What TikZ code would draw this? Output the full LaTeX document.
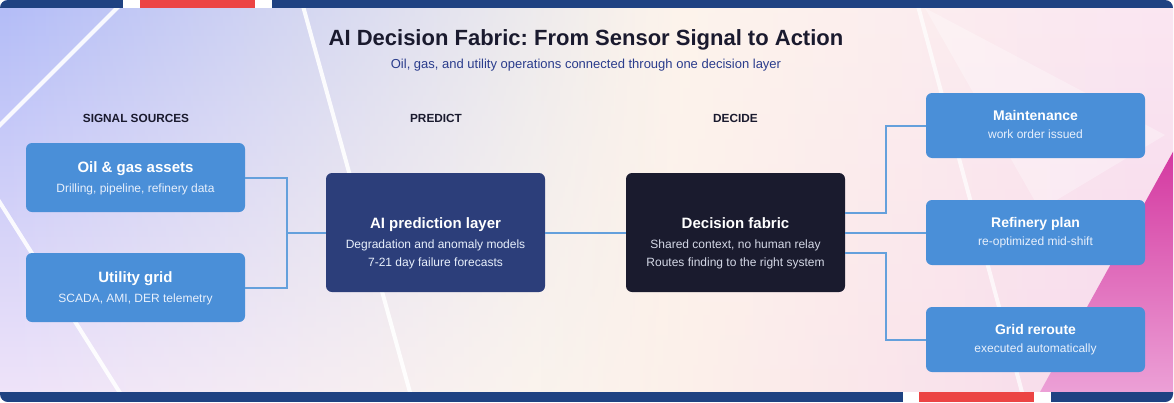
\documentclass[tikz,border=0pt]{standalone}
\usepackage{fontspec}
\setmainfont{Liberation Sans}
\frenchspacing
\usetikzlibrary{fadings,calc}
\definecolor{barblue}{RGB}{31,66,130}
\definecolor{barred}{RGB}{236,68,68}
\definecolor{boxblue}{RGB}{74,143,216}
\definecolor{predblue}{RGB}{44,62,122}
\definecolor{decdark}{RGB}{26,27,46}
\definecolor{connc}{RGB}{100,160,220}
\definecolor{titlec}{RGB}{26,26,46}
\definecolor{subc}{RGB}{42,60,140}
\definecolor{subw}{RGB}{232,240,252}
\definecolor{subd}{RGB}{212,216,230}
\definecolor{bgmid}{RGB}{254,248,234}
\definecolor{bgtl}{RGB}{178,188,248}
\definecolor{bgbl}{RGB}{240,228,250}
\definecolor{bgtr}{RGB}{250,230,242}
\definecolor{bgbr}{RGB}{247,214,236}
\definecolor{magA}{RGB}{212,56,160}
\definecolor{magB}{RGB}{236,160,214}
\tikzfading[name=fadeR, left color=transparent!0, right color=transparent!100]
\tikzfading[name=fadeL, left color=transparent!100, right color=transparent!0]
\tikzset{
  box/.style={rectangle, rounded corners=6pt, minimum width=219pt, draw=none, inner sep=0pt},
  srcbox/.style={box, fill=boxblue, minimum height=69pt},
  outbox/.style={box, fill=boxblue, minimum height=65pt},
  bigbox/.style={box, minimum height=119pt},
  conn/.style={draw=connc, line width=2pt},
  ttl/.style={anchor=base, text=white, font=\bfseries\fontsize{15}{18}\selectfont},
  ttlsm/.style={anchor=base, text=white, font=\bfseries\fontsize{14}{17}\selectfont},
  subtxt/.style={anchor=base, text=subw, font=\fontsize{12}{14}\selectfont},
  subdark/.style={anchor=base, text=subd, font=\fontsize{12}{14}\selectfont},
  hdr/.style={anchor=base, text=titlec, font=\bfseries\fontsize{11.8}{14}\selectfont},
  wline/.style={white, line width=4pt, opacity=0.9}
}
\begin{document}
\begin{tikzpicture}[x=1pt,y=-1pt]
\useasboundingbox (0,0) rectangle (1174,402);
\begin{scope}
\clip[rounded corners=8pt] (0,0) rectangle (1173,402);
% background
\fill[bgmid] (0,0) rectangle (1174,402);
\shade[top color=bgtl, bottom color=bgbl, path fading=fadeR, fit fading=true] (0,0) rectangle (680,402);
\shade[top color=bgtr, bottom color=bgbr, path fading=fadeL, fit fading=true] (540,0) rectangle (1174,402);
\fill[white, opacity=0.3] (925,8) -- (1165,135) -- (1040,210) -- cycle;
\shade[top color=magA, bottom color=magB] (1174,150) -- (1040,392) -- (1174,392) -- cycle;
% white lines
\draw[wline] (-2,127) -- (120,5);
\draw[wline] (-8,190) -- (122,396);
\draw[wline] (303,6) -- (411,396);
\draw[wline, opacity=0.7] (918,6) -- (1023,396);
% bars
\fill[barblue] (0,0) rectangle (123,8);
\fill[white] (123,0) rectangle (272,8);
\fill[barred] (140,0) rectangle (255,8);
\fill[barblue] (272,0) rectangle (1174,8);
\fill[barblue] (0,392) rectangle (903,402);
\fill[white] (903,392) rectangle (1051,402);
\fill[barred] (919,392) rectangle (1034,402);
\fill[barblue] (1051,392) rectangle (1174,402);
\end{scope}
% title
\node[anchor=base, text=titlec, font=\bfseries\fontsize{22}{26}\selectfont] (title) at (586,45) {AI Decision Fabric: From Sensor Signal to Action};
\node[anchor=base, text=subc, font=\fontsize{13}{15}\selectfont] (subtitle) at (586,68) {Oil, gas, and utility operations connected through one decision layer};
% headers
\node[hdr] (h1) at (136,122) {SIGNAL SOURCES};
\node[hdr] (h2) at (436,122) {PREDICT};
\node[hdr] (h3) at (735.5,122) {DECIDE};
% boxes
\node[srcbox] (oil) at (135.5,177.5) {};
\node[srcbox] (util) at (135.5,287.5) {};
\node[bigbox, fill=predblue] (pred) at (435.5,232.5) {};
\node[bigbox, fill=decdark] (dec) at (735.5,232.5) {};
\node[outbox] (maint) at (1035.5,125.5) {};
\node[outbox] (ref) at (1035.5,232.5) {};
\node[outbox] (grid) at (1035.5,339.5) {};
% texts
\node[ttl] (oilT) at (135.5,172) {Oil \& gas assets};
\node[subtxt] (oilS) at (135.5,192) {Drilling, pipeline, refinery data};
\node[ttl] (utilT) at (135.5,282) {Utility grid};
\node[subtxt] (utilS) at (135.5,302) {SCADA, AMI, DER telemetry};
\node[ttl] (predT) at (435.5,228) {AI prediction layer};
\node[subtxt] (predS1) at (435.5,248) {Degradation and anomaly models};
\node[subtxt] (predS2) at (435.5,266) {7-21 day failure forecasts};
\node[ttl] (decT) at (735.5,228) {Decision fabric};
\node[subdark] (decS1) at (735.5,248) {Shared context, no human relay};
\node[subdark] (decS2) at (735.5,266) {Routes finding to the right system};
\node[ttlsm] (maintT) at (1035.5,120) {Maintenance};
\node[subtxt] (maintS) at (1035.5,138) {work order issued};
\node[ttlsm] (refT) at (1035.5,227) {Refinery plan};
\node[subtxt] (refS) at (1035.5,245) {re-optimized mid-shift};
\node[ttlsm] (gridT) at (1035.5,334) {Grid reroute};
\node[subtxt] (gridS) at (1035.5,352) {executed automatically};
% connectors
\coordinate (jl) at ($(pred.west)+(-39,0)$);
\draw[conn] (oil.east) -| (jl);
\draw[conn] (util.east) -| (jl);
\draw[conn] (jl) -- (pred.west);
\draw[conn] (pred.east) -- (dec.west);
\draw[conn] ($(dec.east)+(0,-20)$) -| ($(maint.west)+(-40,0)$) -- (maint.west);
\draw[conn] (dec.east) -- (ref.west);
\draw[conn] ($(dec.east)+(0,20)$) -| ($(grid.west)+(-40,0)$) -- (grid.west);
\end{tikzpicture}
\end{document}
